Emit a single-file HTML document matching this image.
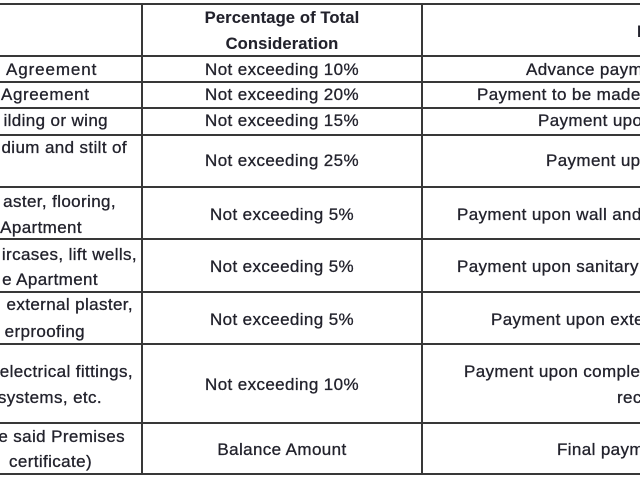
<!DOCTYPE html>
<html><head><meta charset="utf-8"><style>
html,body{margin:0;padding:0;background:#fff;}
#c{position:relative;width:640px;height:480px;overflow:hidden;background:#fff;font-family:"Liberation Sans",sans-serif;color:#22222c;}
.h{position:absolute;left:0;width:640px;height:2px;background:#383838;}
.v{position:absolute;top:3px;width:2px;height:472px;background:#383838;}
.t{position:absolute;font-size:17px;letter-spacing:0.38px;line-height:26px;height:26px;white-space:nowrap;-webkit-text-stroke:0.3px #22222c;}
.r{text-align:right;}
.m{left:142px;width:280px;text-align:center;}
.b{font-weight:bold;font-size:16.6px;letter-spacing:0.1px;-webkit-text-stroke:0.1px #22222c;}
</style></head><body><div id="c">
<div class="h" style="top:3px"></div>
<div class="h" style="top:55px"></div>
<div class="h" style="top:81px"></div>
<div class="h" style="top:107px"></div>
<div class="h" style="top:134px"></div>
<div class="h" style="top:186px"></div>
<div class="h" style="top:238px"></div>
<div class="h" style="top:291px"></div>
<div class="h" style="top:343px"></div>
<div class="h" style="top:422px"></div>
<div class="h" style="top:473px"></div>
<div class="v" style="left:141px"></div>
<div class="v" style="left:421px"></div>

<!-- header -->
<div class="t m b" style="top:5px">Percentage of Total</div>
<div class="t m b" style="top:31px">Consideration</div>
<div class="t b" style="top:19px;left:637px">Particulars</div>

<!-- column 1 -->
<div class="t" style="top:57px;left:6px;letter-spacing:0.9px">Agreement</div>
<div class="t" style="top:82px;left:1px;letter-spacing:0.6px">Agreement</div>
<div class="t r" style="top:108px;right:532px">ilding or wing</div>
<div class="t r" style="top:135px;right:513px">dium and stilt of</div>
<div class="t r" style="top:189px;right:524px">aster, flooring,</div>
<div class="t r" style="top:215px;right:558px">Apartment</div>
<div class="t r" style="top:242px;right:503px">ircases, lift wells,</div>
<div class="t r" style="top:267px;right:542px">e Apartment</div>
<div class="t r" style="top:292px;right:507px">external plaster,</div>
<div class="t r" style="top:319px;right:555px">erproofing</div>
<div class="t r" style="top:359px;right:507px">electrical fittings,</div>
<div class="t r" style="top:385px;right:538px">systems, etc.</div>
<div class="t r" style="top:424px;right:515px">e said Premises</div>
<div class="t r" style="top:449px;right:548px">certificate)</div>

<!-- column 2 -->
<div class="t m" style="top:57px">Not exceeding 10%</div>
<div class="t m" style="top:82px">Not exceeding 20%</div>
<div class="t m" style="top:108px">Not exceeding 15%</div>
<div class="t m" style="top:148px">Not exceeding 25%</div>
<div class="t m" style="top:202px">Not exceeding 5%</div>
<div class="t m" style="top:254px">Not exceeding 5%</div>
<div class="t m" style="top:307px">Not exceeding 5%</div>
<div class="t m" style="top:372px">Not exceeding 10%</div>
<div class="t m" style="top:437px">Balance Amount</div>

<!-- column 3 -->
<div class="t" style="top:57px;left:526px">Advance payment</div>
<div class="t" style="top:82px;left:477px">Payment to be made upon</div>
<div class="t" style="top:108px;left:538px">Payment upon</div>
<div class="t" style="top:148px;left:546px">Payment upon</div>
<div class="t" style="top:202px;left:457px">Payment upon wall and floor</div>
<div class="t" style="top:254px;left:457px">Payment upon sanitary fittings</div>
<div class="t" style="top:307px;left:491px">Payment upon external</div>
<div class="t" style="top:359px;left:464px">Payment upon completion</div>
<div class="t" style="top:385px;left:617px">received</div>
<div class="t" style="top:437px;left:557px">Final payment</div>
</div></body></html>
